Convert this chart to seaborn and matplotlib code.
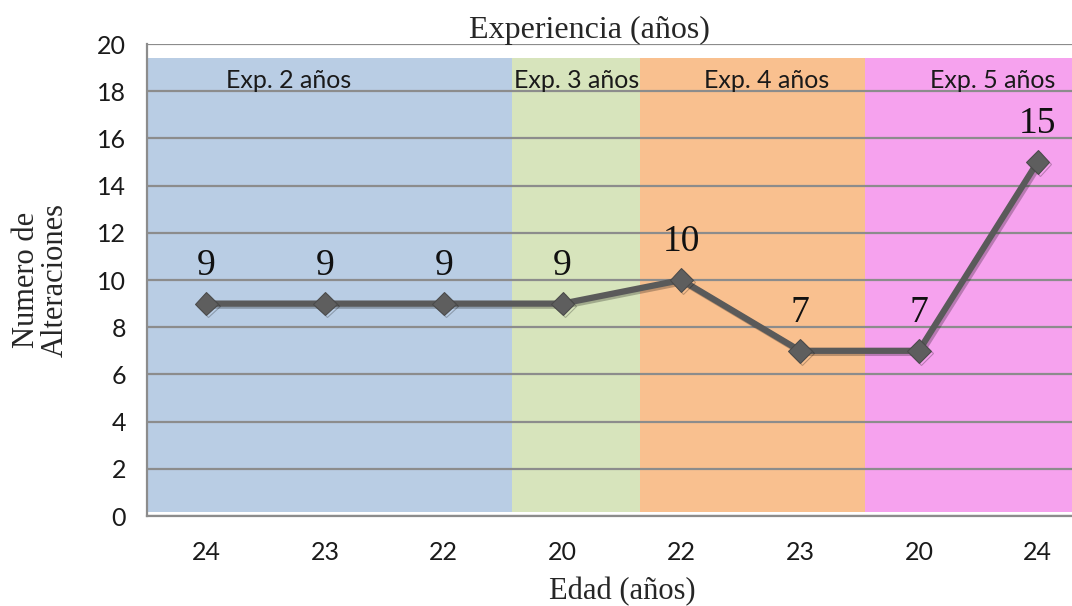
import matplotlib
matplotlib.use("Agg")
import matplotlib.pyplot as plt
import matplotlib.patheffects as pe
import seaborn as sns
import pandas as pd
import numpy as np

# datos
edades = ["24", "23", "22", "20", "22", "23", "20", "24"]
alteraciones = [9, 9, 9, 9, 10, 7, 7, 15]

grupos = ["Exp. 2 años", "Exp. 3 años", "Exp. 4 años", "Exp. 5 años"]
colores_grupo = ["#b9cde4", "#d7e4bc", "#f9c08f", "#f6a2ee"]
limites_grupo = [-0.5, 2.57, 3.65, 5.55, 7.5]
pos_texto_grupo = [0.69, 3.12, 4.72, 6.62]

dados = pd.DataFrame({"pos": np.arange(len(edades)), "alteraciones": alteraciones})

sns.set_style("white")
serif = ["Liberation Serif", "DejaVu Serif"]
sans = ["Lato", "DejaVu Sans"]

fig = plt.figure(figsize=(10.72, 6.06), dpi=100)
ax = fig.add_axes([147 / 1072, 90 / 606, 950 / 1072, 472 / 606])

# bandas de experiencia
for i in range(len(grupos)):
    ax.axvspan(limites_grupo[i], limites_grupo[i + 1], ymin=0.15 / 20, ymax=19.4 / 20,
               color=colores_grupo[i], lw=0, zorder=0)
    ax.text(pos_texto_grupo[i], 18.45, grupos[i], ha="center", va="center",
            fontsize=18, family=sans, color="#1a1a1a", zorder=3)

ax.set_ylim(0, 20)
ax.set_xlim(-0.5, 7.5)
ax.set_yticks(range(0, 21, 2))
ax.yaxis.grid(True, color="#8c8c8c", lw=1.6, zorder=1)
ax.set_axisbelow(False)
for l in ax.get_ygridlines():
    l.set_zorder(1)

sns.lineplot(data=dados, x="pos", y="alteraciones", ax=ax, color="#5a5a5a", lw=4.5,
             marker="D", markersize=12, markeredgecolor="#4a4a4a", markerfacecolor="#5e5e5e",
             zorder=4,
             path_effects=[pe.SimpleLineShadow(offset=(1.5, -1.5), alpha=0.25), pe.Normal()])

for x, y in zip(dados["pos"], dados["alteraciones"]):
    ax.annotate(str(y), (x, y), xytext=(0, 15), textcoords="offset points",
                ha="center", va="bottom", fontsize=27, family=serif, color="#111111", zorder=5)

# ticks
ax.set_xticks(dados["pos"])
ax.set_xticklabels(edades, family=sans, fontsize=18, color="#1a1a1a")
ax.set_xticks(np.arange(-0.5, 8, 1), minor=True)
ax.tick_params(axis="x", which="major", length=0, pad=18)
ax.tick_params(axis="x", which="minor", length=8, width=1.5, color="#8c8c8c", direction="out")
ax.tick_params(axis="y", length=8, width=1.5, color="#8c8c8c", direction="out", pad=7)
for t in ax.get_yticklabels():
    t.set_family(sans)
    t.set_fontsize(18)
    t.set_color("#1a1a1a")

for s in ["top", "right"]:
    ax.spines[s].set_visible(False)
for s in ["left", "bottom"]:
    ax.spines[s].set_color("#8c8c8c")
    ax.spines[s].set_linewidth(1.6)

ax.set_xlabel("Edad (años)", family=serif, fontsize=22, labelpad=9)
ax.set_ylabel("Numero de\nAlteraciones", family=serif, fontsize=22, labelpad=20,
              linespacing=0.95)
ax.set_title("Experiencia (años)", family=serif, fontsize=23, pad=4, x=(589 - 147) / 950)

fig.savefig("out.png", dpi=100)
